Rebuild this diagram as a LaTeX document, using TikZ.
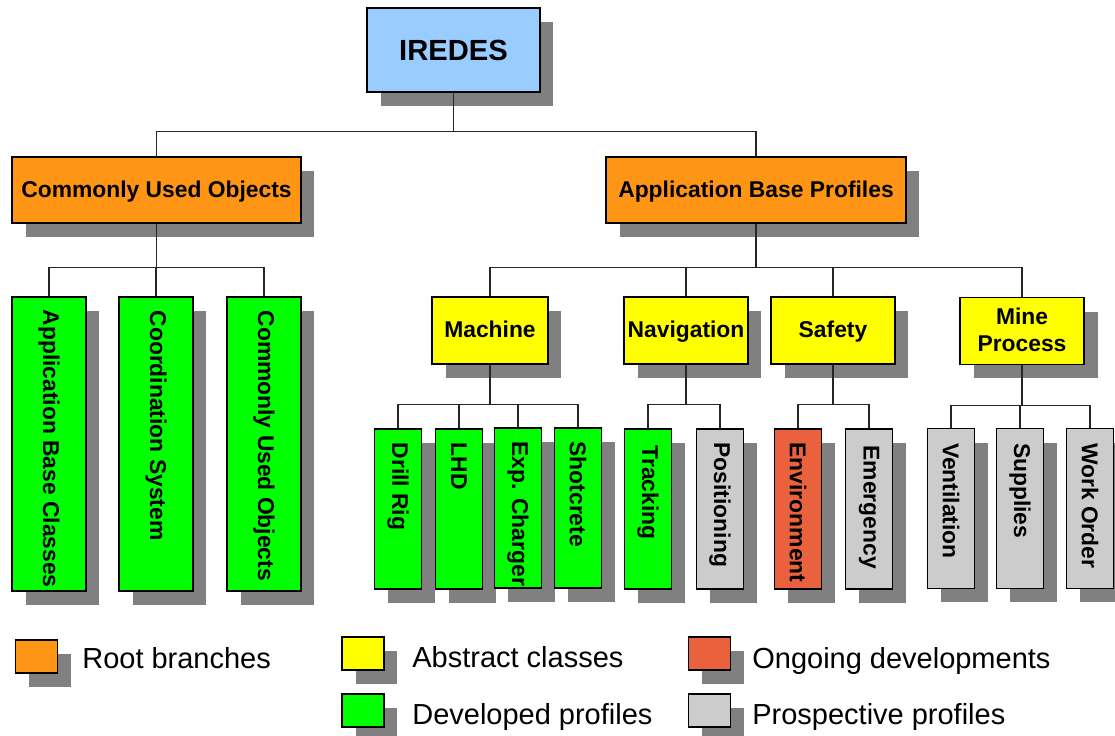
\documentclass[tikz,border=0pt]{standalone}
\usepackage{fontspec}
\setmainfont{Liberation Sans}
\usepackage{tikz}
\usetikzlibrary{shapes,positioning,shadows,calc}
\usepackage{xcolor}
\definecolor{iredesblue}{HTML}{99CCFF}
\definecolor{rootorange}{HTML}{FF9514}
\definecolor{absyellow}{HTML}{FFFF00}
\definecolor{devgreen}{HTML}{00FF00}
\definecolor{ongoingred}{HTML}{EA613D}
\definecolor{prospgray}{HTML}{CCCCCC}
\definecolor{shadowgray}{HTML}{808080}

\begin{document}
\begin{tikzpicture}[x=0.02cm,y=-0.02cm,
        box/.style={rectangle,draw=black,line width=0.8pt,inner sep=0pt,
            drop shadow={shadow xshift=0.27cm,shadow yshift=-0.28cm,fill=shadowgray,opacity=1}},
        boxtext/.style={font=\fontsize{13}{15.3}\selectfont\bfseries,align=center,text depth=0.1em},
        vtext/.style={font=\fontsize{13}{15.3}\selectfont\bfseries,rotate=-90,anchor=west,inner sep=0pt},
        tall/.style={box,minimum width=1.48cm,minimum height=5.88cm},
        leaf/.style={box,minimum width=0.94cm,minimum height=3.2cm},
        abstract/.style={box,boxtext,fill=absyellow,minimum width=2.48cm,minimum height=1.34cm},
        legbox/.style={box,minimum width=0.84cm,minimum height=0.66cm},
        legtext/.style={font=\fontsize{16.5}{19}\selectfont,anchor=base west,inner sep=0pt},
        link/.style={line width=0.6pt,black!85}]
        \useasboundingbox (0,0) rectangle (1115,736);
        % Draw root
        \node[box,fill=iredesblue,minimum width=3.46cm,minimum height=1.68cm,font=\fontsize{16.6}{19}\selectfont\bfseries] (iredes) at (453.5,50) {IREDES};
        % Draw root branches
        \node[box,boxtext,fill=rootorange,minimum width=5.78cm,minimum height=1.32cm] (cuo) at (156.5,190) {Commonly Used Objects};
        \node[box,boxtext,fill=rootorange,minimum width=6cm,minimum height=1.32cm] (abp) at (756,190) {Application Base Profiles};
        % Draw commonly used objects
        \node[tall,fill=devgreen] (appbase) at (49,444) {};
        \node[tall,fill=devgreen] (coordsys) at (156,444) {};
        \node[tall,fill=devgreen] (commobj) at (264,444) {};
        \node[vtext] (appbasetxt) at ([yshift=-0.26cm]appbase.north) {Application Base Classes};
        \node[vtext] (coordsystxt) at ([yshift=-0.28cm]coordsys.north) {Coordination System};
        \node[vtext] (commobjtxt) at ([yshift=-0.28cm]commobj.north) {Commonly Used Objects};
        % Draw abstract classes
        \node[abstract,minimum width=2.32cm] (machine) at (490,330.5) {Machine};
        \node[abstract] (navigation) at (686,330.5) {Navigation};
        \node[abstract] (safety) at (833,330.5) {Safety};
        \node[abstract] (mineproc) at (1022,331) {Mine\\Process};
        % Draw profiles
        \node[leaf,fill=devgreen] (drillrig) at (398,509) {};
        \node[leaf,fill=devgreen] (lhd) at (459,509) {};
        \node[leaf,fill=devgreen] (charger) at (518,508) {};
        \node[leaf,fill=devgreen] (shotcrete) at (578,508) {};
        \node[leaf,fill=devgreen] (tracking) at (648,509) {};
        \node[leaf,fill=prospgray] (positioning) at (720,509) {};
        \node[leaf,fill=ongoingred] (environment) at (798,509) {};
        \node[leaf,fill=prospgray] (emergency) at (869,509) {};
        \node[leaf,fill=prospgray] (ventilation) at (951,508.5) {};
        \node[leaf,fill=prospgray] (supplies) at (1020,508.5) {};
        \node[leaf,fill=prospgray] (workorder) at (1090,508.5) {};
        % Label profiles
        \node[vtext] (drillrigtxt) at ([yshift=-0.28cm]drillrig.north) {Drill Rig};
        \node[vtext] (lhdtxt) at ([yshift=-0.28cm]lhd.north) {LHD};
        \node[vtext] (chargertxt) at ([yshift=-0.28cm]charger.north) {Exp. Charger};
        \node[vtext] (shotcretetxt) at ([yshift=-0.28cm]shotcrete.north) {Shotcrete};
        \node[vtext] (trackingtxt) at ([yshift=-0.34cm]tracking.north) {Tracking};
        \node[vtext] (positioningtxt) at ([yshift=-0.28cm]positioning.north) {Positioning};
        \node[vtext] (environmenttxt) at ([yshift=-0.28cm]environment.north) {Environment};
        \node[vtext] (emergencytxt) at ([yshift=-0.34cm]emergency.north) {Emergency};
        \node[vtext] (ventilationtxt) at ([yshift=-0.3cm]ventilation.north) {Ventilation};
        \node[vtext] (suppliestxt) at ([yshift=-0.3cm]supplies.north) {Supplies};
        \node[vtext] (workordertxt) at ([yshift=-0.3cm]workorder.north) {Work Order};
        % Draw connectors
        \draw[link] (iredes.south) -- ++(0,39) coordinate (topbus);
        \draw[link] (cuo.north) |- (topbus) -| (abp.north);
        \draw[link] (cuo.south) -- ++(0,44) coordinate (cuobus);
        \draw[link] (cuobus) -| (appbase.north);
        \draw[link] (cuobus) -| (coordsys.north);
        \draw[link] (cuobus) -| (commobj.north);
        \draw[link] (abp.south) -- ++(0,44) coordinate (abpbus);
        \draw[link] (abpbus) -| (machine.north);
        \draw[link] (abpbus) -| (navigation.north);
        \draw[link] (abpbus) -| (safety.north);
        \draw[link] (abpbus) -| (mineproc.north);
        \draw[link] (machine.south) -- ++(0,40) coordinate (machbus);
        \draw[link] (machbus) -| (drillrig.north);
        \draw[link] (machbus) -| (lhd.north);
        \draw[link] (machbus) -| (charger.north);
        \draw[link] (machbus) -| (shotcrete.north);
        \draw[link] (navigation.south) -- ++(0,40) coordinate (navbus);
        \draw[link] (navbus) -| (tracking.north);
        \draw[link] (navbus) -| (positioning.north);
        \draw[link] (safety.south) -- ++(0,40) coordinate (safebus);
        \draw[link] (safebus) -| (environment.north);
        \draw[link] (safebus) -| (emergency.north);
        \draw[link] (mineproc.south) -- ++(0,40) coordinate (minebus);
        \draw[link] (minebus) -| (ventilation.north);
        \draw[link] (minebus) -| (supplies.north);
        \draw[link] (minebus) -| (workorder.north);
        % Draw legend
        \node[legbox,fill=rootorange] (legroot) at (36.5,656.5) {};
        \node[legbox,fill=absyellow] (legabstract) at (363,653.5) {};
        \node[legbox,fill=ongoingred] (legongoing) at (709.5,653.5) {};
        \node[legbox,fill=devgreen] (legdev) at (363,710.5) {};
        \node[legbox,fill=prospgray] (legprosp) at (709.5,710.5) {};
        \node[legtext] (legroottxt) at (82,668) {Root branches};
        \node[legtext] (legabstracttxt) at (412,667) {Abstract classes};
        \node[legtext] (legongoingtxt) at (752,668) {Ongoing developments};
        \node[legtext] (legdevtxt) at (412,724) {Developed profiles};
        \node[legtext] (legprosptxt) at (752,724) {Prospective profiles};
    \end{tikzpicture}
\end{document}
